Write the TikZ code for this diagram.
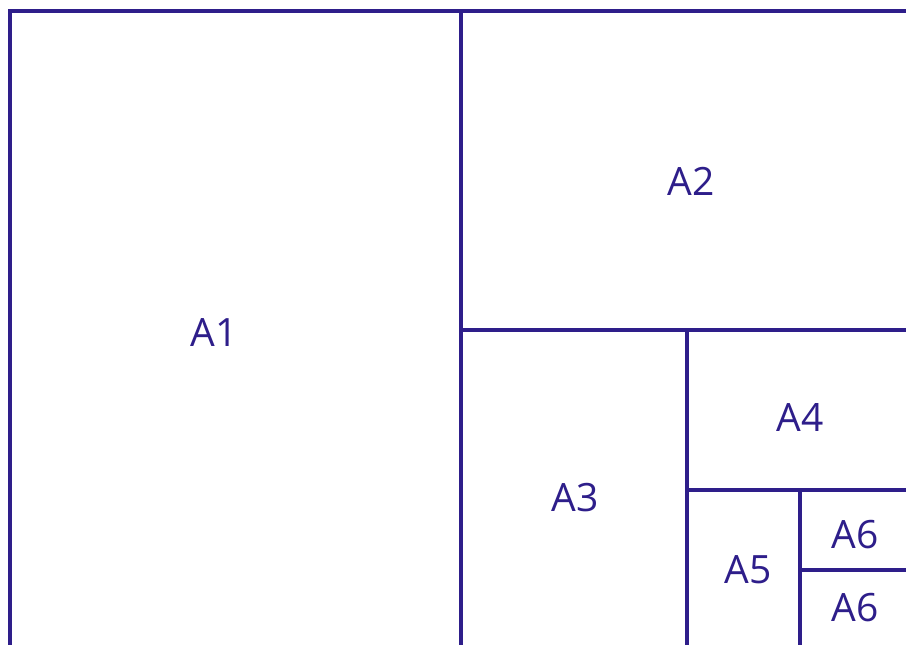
\documentclass[tikz,border=0pt]{standalone}
\usepackage{fontspec}
\setmainfont{Open Sans}
\definecolor{sheet}{RGB}{46,30,138}
\tikzset{
  paper/.style={draw=sheet, line width=3.7pt},
  size/.style={text=sheet, font=\fontsize{39}{40}\selectfont, inner sep=0pt}
}
\begin{document}
\begin{tikzpicture}[x=1pt, y=-1pt]
    \useasboundingbox (0,0) rectangle (906,645);
    \clip (0,0) rectangle (906,645);

    % sheets, halved one after the other
    \draw[paper] (10,11) rectangle (461,660);
    \draw[paper] (461,11) rectangle (1100,330);
    \draw[paper] (461,330) rectangle (687,660);
    \draw[paper] (687,330) rectangle (1100,490);
    \draw[paper] (687,490) rectangle (800,660);
    \draw[paper] (800,490) rectangle (1100,570);
    \draw[paper] (800,570) rectangle (1100,660);

    % labels
    \node[size] (a1) at (214,333) {A1};
    \node[size] (a2) at (691,181) {A2};
    \node[size] (a3) at (575,498) {A3};
    \node[size] (a4) at (800,418) {A4};
    \node[size] (a5) at (748,570) {A5};
    \node[size] (a6top) at (855,535) {A6};
    \node[size] (a6bot) at (855,608) {A6};
\end{tikzpicture}
\end{document}
